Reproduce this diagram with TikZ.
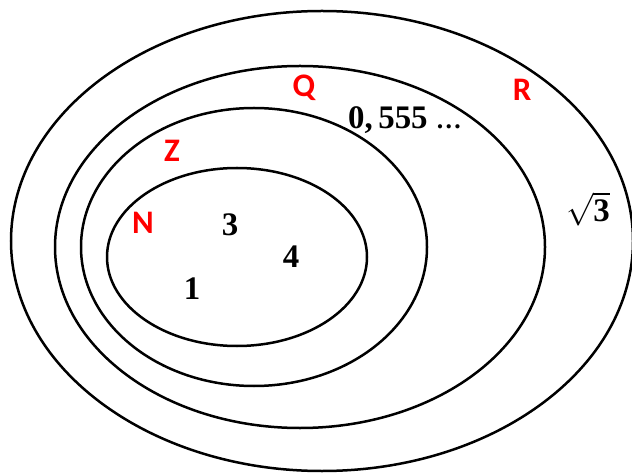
\documentclass[tikz,border=0pt]{standalone}
\usepackage{fontspec}
\usepackage{unicode-math}
\setmainfont{Liberation Serif}
\setmathfont{Latin Modern Math}
\newfontfamily\setfont{Carlito}
\usepackage{tikz}

\begin{document}
\begin{tikzpicture}[x=1bp,y=-1bp,
 set/.style={draw,line width=2.5bp},
 setname/.style={text=red,font=\setfont\bfseries\fontsize{33}{38}\selectfont,inner sep=0pt},
 elem/.style={font=\bfseries\fontsize{33}{38}\selectfont,inner sep=0pt}]
\useasboundingbox (0,0) rectangle (632,473);
% sets
\draw[set] (322,241) ellipse [x radius=311, y radius=230];
\draw[set] (300,247) ellipse [x radius=245, y radius=181];
\draw[set] (254,247) ellipse [x radius=173, y radius=139];
\draw[set] (237,257) ellipse [x radius=130, y radius=89];
% set names
\node[setname] (nR) at (522,90) {R};
\node[setname] (nQ) at (304,88) {Q};
\node[setname] (nZ) at (172,151) {Z};
\node[setname] (nN) at (143,223) {N};
% elements
\node[elem] (e3) at (230,225) {3};
\node[elem] (e4) at (291,257) {4};
\node[elem] (e1) at (192,289) {1};
\node[elem] (eq) at (405,120) {0,\,555 {\fontsize{26}{30}\selectfont\ldots}};
\node[elem] (er) at (588,209) {$\sqrt{\textbf{3}}$};
\end{tikzpicture}
\end{document}
